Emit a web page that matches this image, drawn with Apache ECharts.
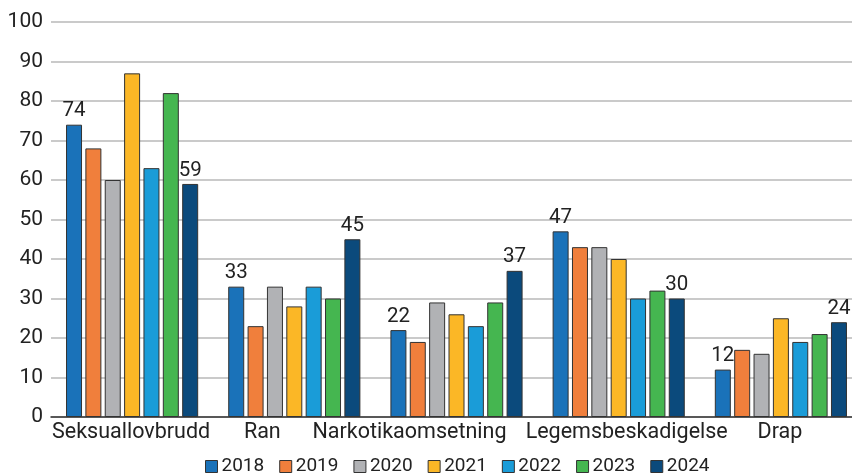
<!DOCTYPE html>
<html><head><meta charset="utf-8">
<script src="https://cdn.jsdelivr.net/npm/echarts@6/dist/echarts.min.js"></script>
<style>html,body{margin:0;padding:0;background:#fff;overflow:hidden}#c{width:862px;height:475px}</style>
</head><body><div id="c"></div>
<script>
const categories = ['Seksuallovbrudd','Ran','Narkotikaomsetning','Legemsbeskadigelse','Drap'];
const years = ['2018','2019','2020','2021','2022','2023','2024'];
const v2018 = [74,33,22,47,12];
const v2019 = [68,23,19,43,17];
const v2020 = [60,33,29,43,16];
const v2021 = [87,28,26,40,25];
const v2022 = [63,33,23,30,19];
const v2023 = [82,30,29,32,21];
const v2024 = [59,45,37,30,24];
const yTicks = [0,10,20,30,40,50,60,70,80,90,100];
const colors = ['#1a72b9','#f07f3c','#b1b2b5','#fbb726','#1a9cd8','#45b650','#0b4a7c'];
const allValues = [v2018,v2019,v2020,v2021,v2022,v2023,v2024];
const labelled = {'2018':true,'2024':true};
const FONT = 'Roboto';
// horizontal nudges of category labels (px) to avoid overlap, as in the original
const labelShift = [-1,-32,-47,8,-1];
const rich = {};
labelShift.forEach((s,i)=>{
  rich['c'+i] = {fontSize:21.5,color:'#222',fontFamily:FONT,
    padding: s<0 ? [0,-2*s,0,0] : [0,0,0,2*s]};
});
const chart = echarts.init(document.getElementById('c'), null, {renderer:'canvas'});
chart.setOption({
  animation:false,
  textStyle:{fontFamily:FONT},
  grid:{left:51,right:0,top:22,bottom:58,containLabel:false},
  legend:{
    top:457, left:205, padding:0, itemWidth:12, itemHeight:12, itemGap:15,
    icon:'rect',
    textStyle:{fontSize:19,color:'#222',fontFamily:FONT, padding:[0,0,0,-1]},
    itemStyle:{borderColor:'#333',borderWidth:1},
    data:years
  },
  xAxis:{
    type:'category', data:categories,
    axisLine:{lineStyle:{color:'#333',width:1.5}},
    axisTick:{show:false},
    axisLabel:{fontSize:21.5,color:'#222',margin:5,fontFamily:FONT,interval:0,
      formatter:(v,i)=>'{c'+i+'|'+v+'}', rich:rich}
  },
  yAxis:{
    type:'value', min:yTicks[0], max:yTicks[yTicks.length-1], interval:10,
    axisLine:{show:false}, axisTick:{show:false},
    axisLabel:{fontSize:21,color:'#222',margin:8,fontFamily:FONT},
    splitLine:{lineStyle:{color:'#b8b8b8',width:1.5}}
  },
  series: years.map((y,i)=>({
    name:y, type:'bar', data:allValues[i],
    barWidth:16, barGap:'21%',
    itemStyle:{color:colors[i],borderColor:'#333',borderWidth:1},
    label:{show:!!labelled[y],position:'top',fontSize:20.5,color:'#222',distance:3,fontFamily:FONT}
  }))
});
</script></body></html>
